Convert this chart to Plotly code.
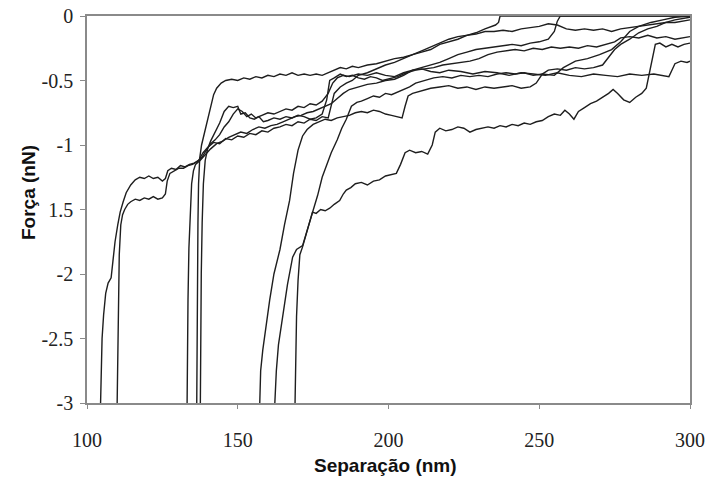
import plotly.graph_objects as go

# ---- data (separation in nm, force in nN) ----
curve1 = [[104.5,-3.0],[104.7,-2.75],[105.0,-2.5],[105.5,-2.32],[106.2,-2.15],[107.0,-2.07],[108.0,-2.03],
          [108.6,-1.9],[109.3,-1.75],[110.2,-1.62],[111.0,-1.52],[112.0,-1.44],[113.0,-1.37],[114.5,-1.31],
          [116.0,-1.27],[117.5,-1.25],[119.0,-1.26],[120.5,-1.24],[122.0,-1.26],[123.5,-1.25],[125.0,-1.28],
          [126.0,-1.26],[126.8,-1.2],[128.0,-1.18],[129.5,-1.19],[131.0,-1.16],[132.5,-1.17],[134.0,-1.15],
          [135.5,-1.14],[137.0,-1.12],[138.5,-1.06],[140.0,-1.02],[142.0,-0.98],[144.0,-0.99],[146.0,-0.95],
          [148.0,-0.96],[150.0,-0.93],[152.0,-0.94],[154.0,-0.91],[156.0,-0.92],[158.0,-0.89],[160.0,-0.9],
          [162.0,-0.87],[164.0,-0.86],[166.0,-0.84],[168.0,-0.85],[170.0,-0.82],[172.0,-0.83],[174.0,-0.8],
          [176.0,-0.81],[178.0,-0.78],[180.0,-0.79],[181.0,-0.7],[182.0,-0.6],[184.0,-0.55],[186.0,-0.52],
          [188.0,-0.5],[190.0,-0.46],[193.0,-0.44],[196.0,-0.41],[199.0,-0.38],[202.0,-0.36],[205.0,-0.33],
          [208.0,-0.3],[211.0,-0.28],[214.0,-0.26],[217.0,-0.22],[220.0,-0.2],[223.0,-0.18],[226.0,-0.15],
          [229.0,-0.13],[232.0,-0.1],[234.0,-0.08],[235.5,-0.07],[236.5,-0.05],[237.0,0.0],[300.0,0.0]]

curve2 = [[110.0,-3.0],[110.2,-2.6],[110.4,-2.2],[110.7,-1.85],[111.2,-1.62],[111.8,-1.54],[112.5,-1.5],
          [113.5,-1.46],[114.5,-1.44],[116.0,-1.42],[117.5,-1.43],[119.0,-1.41],[120.5,-1.42],[122.0,-1.4],
          [123.5,-1.42],[125.0,-1.41],[126.0,-1.38],[126.6,-1.28],[127.5,-1.22],[129.0,-1.2],[130.5,-1.18],
          [132.0,-1.18],[133.5,-1.16],[135.0,-1.15],[136.5,-1.13],[138.0,-1.1],[139.5,-1.05],[141.0,-0.99],
          [142.5,-0.96],[144.0,-0.92],[145.5,-0.86],[147.0,-0.82],[148.5,-0.76],[150.0,-0.72],[151.5,-0.74],
          [153.0,-0.78],[154.5,-0.76],[156.0,-0.79],[158.0,-0.77],[160.0,-0.75],[162.0,-0.76],[164.0,-0.74],
          [166.0,-0.72],[168.0,-0.73],[170.0,-0.7],[172.0,-0.71],[174.0,-0.68],[176.0,-0.69],[178.0,-0.66],
          [180.0,-0.6],[181.5,-0.52],[183.0,-0.48],[185.0,-0.46],[187.0,-0.47],[190.0,-0.45],[193.0,-0.46],
          [196.0,-0.44],[199.0,-0.46],[202.0,-0.47],[205.0,-0.44],[208.0,-0.42],[211.0,-0.41],[214.0,-0.43],
          [217.0,-0.44],[220.0,-0.42],[224.0,-0.43],[228.0,-0.45],[232.0,-0.43],[236.0,-0.44],[240.0,-0.46],
          [244.0,-0.44],[248.0,-0.45],[252.0,-0.46],[256.0,-0.44],[260.0,-0.46],[264.0,-0.47],[268.0,-0.45],
          [272.0,-0.46],[276.0,-0.47],[280.0,-0.45],[284.0,-0.46],[288.0,-0.45],[291.0,-0.46],[293.0,-0.47],
          [294.0,-0.42],[295.0,-0.37],[297.0,-0.35],[299.0,-0.36],[300.0,-0.35]]

curve3 = [[133.2,-3.0],[133.3,-2.6],[133.5,-2.2],[133.8,-1.8],[134.2,-1.5],[134.7,-1.3],[135.3,-1.2],
          [136.0,-1.15],[137.5,-1.12],[139.0,-1.08],[141.0,-1.03],[143.0,-0.99],[145.0,-0.97],[147.0,-0.94],
          [149.0,-0.92],[151.0,-0.9],[153.0,-0.91],[155.0,-0.88],[157.0,-0.86],[159.0,-0.87],[161.0,-0.85],
          [163.0,-0.84],[165.0,-0.82],[167.0,-0.8],[169.0,-0.78],[171.0,-0.77],[173.0,-0.75],[175.0,-0.74],
          [177.0,-0.72],[179.0,-0.7],[181.0,-0.68],[183.0,-0.64],[185.0,-0.6],[187.0,-0.57],[190.0,-0.55],
          [193.0,-0.53],[196.0,-0.52],[199.0,-0.5],[202.0,-0.49],[205.0,-0.46],[208.0,-0.42],[211.0,-0.4],
          [214.0,-0.38],[217.0,-0.36],[220.0,-0.33],[223.0,-0.3],[226.0,-0.28],[229.0,-0.26],[232.0,-0.25],
          [235.0,-0.24],[238.0,-0.23],[241.0,-0.22],[244.0,-0.23],[247.0,-0.21],[250.0,-0.2],[253.0,-0.18],
          [255.0,-0.12],[256.0,-0.04],[257.0,0.0],[300.0,0.0]]

curve4 = [[136.4,-3.0],[136.5,-2.5],[136.6,-2.0],[136.8,-1.6],[137.0,-1.3],[137.4,-1.1],[138.0,-1.0],
          [139.0,-0.9],[140.0,-0.79],[141.0,-0.69],[142.0,-0.61],[143.0,-0.56],[144.5,-0.52],[146.0,-0.5],
          [148.0,-0.49],[150.0,-0.5],[152.0,-0.48],[154.0,-0.49],[156.0,-0.47],[158.0,-0.48],[160.0,-0.46],
          [162.0,-0.47],[164.0,-0.45],[166.0,-0.46],[168.0,-0.44],[170.0,-0.46],[172.0,-0.45],[174.0,-0.46],
          [176.0,-0.45],[178.0,-0.46],[180.0,-0.44],[182.0,-0.42],[184.0,-0.4],[186.0,-0.41],[188.0,-0.39],
          [190.0,-0.4],[193.0,-0.38],[196.0,-0.37],[199.0,-0.35],[202.0,-0.33],[205.0,-0.32],[208.0,-0.3],
          [211.0,-0.27],[214.0,-0.24],[216.0,-0.22],[218.0,-0.2],[220.0,-0.18],[223.0,-0.16],[226.0,-0.15],
          [229.0,-0.14],[232.0,-0.12],[235.0,-0.12],[238.0,-0.11],[241.0,-0.12],[244.0,-0.1],[247.0,-0.09],
          [250.0,-0.08],[253.0,-0.06],[256.0,-0.07],[259.0,-0.1],[262.0,-0.11],[265.0,-0.1],[268.0,-0.11],
          [271.0,-0.1],[274.0,-0.12],[277.0,-0.1],[280.0,-0.09],[283.0,-0.08],[286.0,-0.07],[289.0,-0.06],
          [292.0,-0.05],[295.0,-0.05],[298.0,-0.04],[300.0,-0.03]]

curve5 = [[137.6,-3.0],[137.7,-2.5],[137.9,-2.0],[138.2,-1.6],[138.6,-1.3],[139.2,-1.12],[140.0,-1.03],
          [141.0,-0.97],[142.5,-0.9],[144.0,-0.83],[145.5,-0.74],[147.0,-0.7],[148.5,-0.71],[150.0,-0.7],
          [151.0,-0.76],[152.5,-0.75],[154.0,-0.79],[155.5,-0.8],[157.0,-0.78],[158.5,-0.82],[160.0,-0.81],
          [162.0,-0.79],[164.0,-0.8],[166.0,-0.78],[168.0,-0.79],[170.0,-0.77],[172.0,-0.78],[174.0,-0.8],
          [176.0,-0.79],[178.0,-0.76],[179.5,-0.65],[180.5,-0.5],[182.0,-0.48],[184.0,-0.45],[186.0,-0.47],
          [188.0,-0.46],[190.0,-0.48],[192.0,-0.49],[194.0,-0.47],[196.0,-0.48],[198.0,-0.5],[200.0,-0.49],
          [203.0,-0.47],[206.0,-0.44],[209.0,-0.42],[212.0,-0.41],[215.0,-0.4],[218.0,-0.38],[221.0,-0.37],
          [224.0,-0.36],[227.0,-0.35],[230.0,-0.33],[233.0,-0.3],[236.0,-0.28],[239.0,-0.27],[242.0,-0.26],
          [245.0,-0.27],[248.0,-0.25],[251.0,-0.26],[254.0,-0.24],[257.0,-0.25],[260.0,-0.24],[263.0,-0.25],
          [266.0,-0.23],[269.0,-0.24],[272.0,-0.22],[275.0,-0.2],[277.0,-0.17],[280.0,-0.16],[283.0,-0.17],
          [286.0,-0.15],[289.0,-0.17],[292.0,-0.16],[295.0,-0.18],[298.0,-0.17],[300.0,-0.16]]

curve6 = [[157.3,-3.0],[157.6,-2.75],[158.3,-2.59],[159.3,-2.4],[160.6,-2.2],[162.0,-2.0],[164.0,-1.81],
          [165.5,-1.62],[167.2,-1.43],[168.5,-1.22],[170.0,-1.04],[171.5,-0.93],[173.0,-0.88],[175.0,-0.84],
          [177.0,-0.82],[179.0,-0.8],[181.0,-0.81],[183.0,-0.79],[185.0,-0.78],[187.0,-0.77],[189.0,-0.75],
          [191.0,-0.74],[193.0,-0.75],[195.0,-0.73],[197.0,-0.74],[199.0,-0.76],[201.0,-0.77],[203.0,-0.78],
          [204.5,-0.79],[205.5,-0.7],[206.5,-0.62],[208.0,-0.6],[211.0,-0.58],[214.0,-0.56],[217.0,-0.55],
          [220.0,-0.54],[223.0,-0.56],[226.0,-0.55],[229.0,-0.57],[232.0,-0.55],[235.0,-0.56],[238.0,-0.55],
          [241.0,-0.54],[244.0,-0.56],[247.0,-0.55],[249.0,-0.52],[251.0,-0.45],[253.0,-0.42],[256.0,-0.41],
          [259.0,-0.42],[262.0,-0.4],[265.0,-0.41],[268.0,-0.4],[271.0,-0.38],[273.0,-0.32],[275.0,-0.26],
          [277.0,-0.22],[280.0,-0.18],[283.0,-0.13],[286.0,-0.1],[289.0,-0.08],[292.0,-0.05],[295.0,-0.03],
          [298.0,-0.02],[300.0,-0.01]]

curve7 = [[162.3,-3.0],[162.8,-2.75],[163.5,-2.55],[165.0,-2.33],[166.5,-2.08],[168.2,-1.87],[169.5,-1.81],
          [171.5,-1.78],[172.8,-1.68],[173.8,-1.6],[175.0,-1.5],[176.5,-1.39],[178.0,-1.25],[179.5,-1.15],
          [181.0,-1.06],[183.0,-0.96],[184.5,-0.87],[186.0,-0.8],[187.7,-0.7],[189.5,-0.67],[191.0,-0.66],
          [193.0,-0.64],[195.0,-0.62],[197.0,-0.63],[199.0,-0.6],[201.0,-0.61],[203.0,-0.59],[205.0,-0.57],
          [207.0,-0.55],[209.0,-0.52],[212.0,-0.5],[215.0,-0.48],[218.0,-0.47],[221.0,-0.48],[224.0,-0.46],
          [227.0,-0.47],[230.0,-0.46],[233.0,-0.47],[236.0,-0.45],[239.0,-0.44],[242.0,-0.45],[245.0,-0.44],
          [248.0,-0.46],[251.0,-0.45],[255.0,-0.46],[258.0,-0.4],[262.0,-0.35],[266.0,-0.33],[270.0,-0.3],
          [274.0,-0.26],[277.0,-0.2],[280.0,-0.12],[283.0,-0.08],[287.0,-0.05],[291.0,-0.03],[295.0,-0.01],
          [300.0,0.0]]

curve8 = [[169.0,-3.0],[169.3,-2.6],[169.5,-2.33],[170.0,-2.05],[170.6,-1.85],[171.5,-1.79],[172.8,-1.68],
          [174.0,-1.57],[174.8,-1.52],[176.0,-1.53],[177.5,-1.5],[179.0,-1.51],[180.5,-1.49],[182.0,-1.46],
          [183.8,-1.43],[185.0,-1.38],[186.0,-1.35],[187.5,-1.33],[189.0,-1.3],[191.0,-1.29],[193.0,-1.31],
          [195.0,-1.28],[197.0,-1.27],[199.0,-1.24],[201.0,-1.23],[202.6,-1.22],[204.0,-1.15],[205.5,-1.06],
          [207.0,-1.04],[209.0,-1.06],[211.0,-1.05],[213.0,-1.07],[214.5,-1.0],[215.5,-0.9],[217.0,-0.87],
          [219.0,-0.89],[221.0,-0.88],[223.0,-0.86],[225.0,-0.87],[227.0,-0.9],[229.0,-0.88],[231.0,-0.87],
          [233.0,-0.86],[235.0,-0.87],[237.0,-0.85],[239.0,-0.86],[241.0,-0.84],[243.0,-0.85],[245.0,-0.83],
          [247.0,-0.84],[249.0,-0.82],[251.0,-0.81],[253.0,-0.78],[255.0,-0.76],[257.0,-0.77],[258.5,-0.73],
          [260.0,-0.76],[261.5,-0.8],[263.0,-0.74],[265.0,-0.71],[267.0,-0.68],[269.0,-0.66],[271.0,-0.63],
          [273.0,-0.6],[274.5,-0.57],[276.0,-0.6],[278.0,-0.65],[280.0,-0.67],[282.0,-0.63],[284.0,-0.6],
          [285.5,-0.56],[286.5,-0.45],[287.5,-0.32],[288.5,-0.22],[290.0,-0.21],[292.0,-0.24],[294.0,-0.22],
          [296.0,-0.24],[298.0,-0.22],[300.0,-0.21]]

curves = [curve1, curve2, curve3, curve4, curve5, curve6, curve7, curve8]

x_tick_vals = [100, 150, 200, 250, 300]
x_tick_text = ["100", "150", "200", "250", "300"]
y_tick_vals = [0, -0.5, -1, -1.5, -2, -2.5, -3]
y_tick_text = ["0", "-0.5", "-1", "1.5", "-2", "-2.5", "-3"]

x_title = "Separação (nm)"
y_title = "Força (nN)"

# ---- figure ----
fig = go.Figure()
for c in curves:
    fig.add_trace(go.Scatter(
        x=[p[0] for p in c], y=[p[1] for p in c],
        mode="lines", line=dict(color="#1e1e1e", width=1.4),
        showlegend=False, hoverinfo="skip"))

L, R, T, B = 87, 19, 16, 83
W, H = 709, 486
pw, ph = W - L - R, H - T - B

tickfont = dict(family="Liberation Serif", size=20, color="#222")
titlefont = dict(family="Liberation Sans", size=19, color="#111")
fig.update_layout(
    width=W, height=H, autosize=False,
    margin=dict(l=L, r=R, t=T, b=B, pad=0, autoexpand=False),
    paper_bgcolor="white", plot_bgcolor="white",
    xaxis=dict(range=[100, 300], tickvals=x_tick_vals, ticktext=x_tick_text,
               showgrid=False, zeroline=False, showline=True, mirror=True, automargin=False,
               linecolor="#8a8a8a", linewidth=1.5, ticks="outside", ticklen=4,
               tickcolor="#8a8a8a", tickfont=tickfont, ticklabelstandoff=14),
    yaxis=dict(range=[-3, 0], tickvals=y_tick_vals, ticktext=y_tick_text,
               showgrid=False, zeroline=False, showline=True, mirror=True, automargin=False,
               linecolor="#8a8a8a", linewidth=1.5, ticks="outside", ticklen=5,
               tickcolor="#8a8a8a", tickfont=tickfont, ticklabelstandoff=3),
    annotations=[
        dict(text="<b>" + x_title + "</b>", xref="paper", yref="paper",
             x=(385 - L) / pw, y=(H - B - 465) / ph, showarrow=False,
             xanchor="center", yanchor="middle", font=titlefont),
        dict(text="<b>" + y_title + "</b>", xref="paper", yref="paper",
             x=(28 - L) / pw, y=(H - B - 193) / ph, showarrow=False, textangle=-90,
             xanchor="center", yanchor="middle", font=titlefont),
    ],
)

fig.write_html("out.html", config={"displayModeBar": False},
               post_script="document.body.style.margin='0';")
